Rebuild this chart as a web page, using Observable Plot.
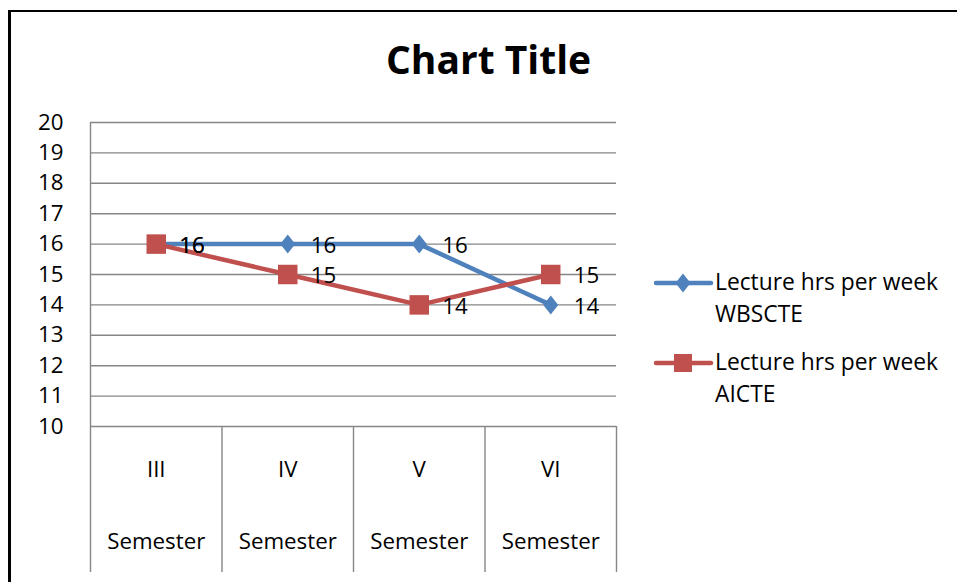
<!DOCTYPE html>
<html>
<head>
<meta charset="utf-8">
<script src="https://cdn.jsdelivr.net/npm/d3@7"></script>
<script src="https://cdn.jsdelivr.net/npm/@observablehq/plot@0.6"></script>
<style>
  html, body { margin: 0; padding: 0; background: white; overflow: hidden; }
  body { width: 957px; height: 582px; position: relative; font-family: "Open Sans", sans-serif; }
  #chart { position: absolute; left: 0; top: 0; width: 957px; height: 582px; }
  .bar { position: absolute; background: #000; pointer-events: none; z-index: 5; }
  #bar-left { left: 8px; top: 10px; width: 3px; height: 572px; }
  #bar-top { left: 8px; top: 10px; width: 949px; height: 2px; }
  #title { position: absolute; left: 0; top: 39px; width: 977px; text-align: center; font-size: 39px; font-weight: 700; line-height: 1; color: #000; }
  .leg-text { position: absolute; left: 715px; font-size: 22.8px; line-height: 32px; color: #000; white-space: nowrap; }
  .leg-mark { position: absolute; left: 650px; }
</style>
</head>
<body>
<div id="chart"></div>
<div class="bar" id="bar-left"></div>
<div class="bar" id="bar-top"></div>
<div id="title">Chart Title</div>
<div id="legend"></div>
<script>
// ---- data ----
const semesters = ["III", "IV", "V", "VI"];
const semesterWord = "Semester";
const wbscte = [16, 16, 16, 14];
const aicte = [16, 15, 14, 15];
const yTicks = [10, 11, 12, 13, 14, 15, 16, 17, 18, 19, 20];
const seriesNames = [["Lecture hrs per week", "WBSCTE"], ["Lecture hrs per week", "AICTE"]];
const colors = ["#4F81BD", "#C0504D"];

// ---- tables ----
const cats = semesters.map((s, i) => ({sem: s, pos: i + 0.5}));
const bounds = d3.range(semesters.length + 1);
const blueRows = semesters.map((s, i) => ({pos: i + 0.5, v: wbscte[i]}));
const redRows = semesters.map((s, i) => ({pos: i + 0.5, v: aicte[i]}));

const diamondTall = {
  draw(ctx, size) {
    const r = Math.sqrt(size / Math.PI);
    const h = r, w = r * 0.79;
    ctx.moveTo(0, -h); ctx.lineTo(w, 0); ctx.lineTo(0, h); ctx.lineTo(-w, 0); ctx.closePath();
  }
};

const W = 957, H = 582;
const mL = 90, mR = 341, mT = 122, mB = 156;
const plotH = H - mT - mB;
const gridColor = "#868686";

const chart = Plot.plot({
  width: W,
  height: H,
  marginLeft: mL,
  marginRight: mR,
  marginTop: mT,
  marginBottom: mB,
  style: {fontFamily: "Open Sans", background: "white", color: "black"},
  x: {type: "linear", domain: [0, semesters.length], axis: null},
  y: {type: "linear", domain: [10, 20], axis: null},
  marks: [
    Plot.gridY(yTicks, {stroke: gridColor, strokeOpacity: 1, strokeWidth: 1.4}),
    Plot.ruleX([0], {stroke: gridColor, strokeWidth: 1.4}),
    Plot.ruleX(bounds, {x: d => d, stroke: gridColor, strokeWidth: 1.4, insetTop: plotH, insetBottom: -146}),
    Plot.text(yTicks, {y: d => d, frameAnchor: "left", dx: -27, textAnchor: "end", lineAnchor: "middle", fontSize: 22.3, fill: "black"}),
    Plot.text(cats, {x: "pos", text: "sem", frameAnchor: "bottom", lineAnchor: "middle", dy: 43, fontSize: 22.3, fill: "black"}),
    Plot.text(cats, {x: "pos", text: () => semesterWord, frameAnchor: "bottom", lineAnchor: "middle", dy: 115, fontSize: 22.3, fill: "black"}),
    Plot.line(blueRows, {x: "pos", y: "v", stroke: colors[0], strokeWidth: 4.5}),
    Plot.dot(blueRows, {x: "pos", y: "v", symbol: diamondTall, r: 9.5, fill: colors[0], stroke: "none"}),
    Plot.line(redRows, {x: "pos", y: "v", stroke: colors[1], strokeWidth: 4.5}),
    Plot.dot(redRows, {x: "pos", y: "v", symbol: "square", r: 11, fill: colors[1], stroke: "none"}),
    Plot.text(blueRows, {x: "pos", y: "v", text: d => String(d.v), textAnchor: "start", dx: 23, dy: 1.5, fontSize: 22.3, fill: "black"}),
    Plot.text(redRows, {x: "pos", y: "v", text: d => String(d.v), textAnchor: "start", dx: 23, dy: 1.5, fontSize: 22.3, fill: "black"})
  ]
});
document.getElementById("chart").appendChild(chart);

// ---- legend ----
const legend = document.getElementById("legend");
const legTops = [266, 346];
seriesNames.forEach((lines, k) => {
  const t = document.createElement("div");
  t.className = "leg-text";
  t.style.top = legTops[k] + "px";
  t.innerHTML = lines.join("<br>");
  legend.appendChild(t);
  const cy = legTops[k] + 16.5;
  const svg = d3.create("svg").attr("class", "leg-mark").attr("width", 70).attr("height", 40)
    .style("top", (cy - 20) + "px");
  svg.append("line").attr("x1", 6).attr("x2", 61).attr("y1", 20).attr("y2", 20)
    .attr("stroke", colors[k]).attr("stroke-width", 4.5).attr("stroke-linecap", "round");
  if (k === 0) {
    svg.append("path").attr("d", "M33,10.5L40.5,20L33,29.5L25.5,20Z").attr("fill", colors[k]);
  } else {
    svg.append("rect").attr("x", 24).attr("y", 11).attr("width", 18).attr("height", 18).attr("fill", colors[k]);
  }
  legend.appendChild(svg.node());
});
</script>
</body>
</html>
